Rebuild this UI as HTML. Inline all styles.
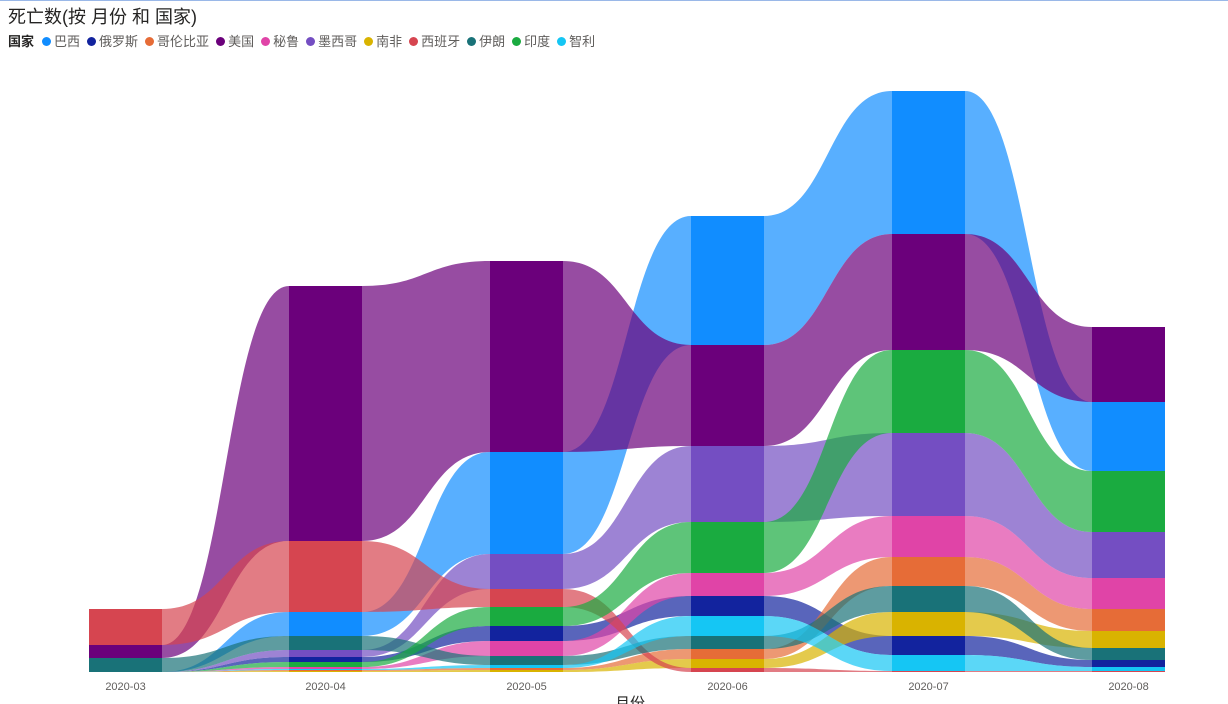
<!DOCTYPE html>
<html><head><meta charset="utf-8"><style>
body{margin:0;width:1228px;height:704px;overflow:hidden;background:#fff;font-family:"Liberation Sans","Noto Sans CJK SC",sans-serif;}
#top{position:absolute;left:0;top:0;width:1228px;height:1px;background:#9ab8e8}
#title{position:absolute;left:8px;top:3px;font-size:18px;color:#252423}
#legend{position:absolute;left:8px;top:31px;font-size:13px;color:#605e5c;white-space:nowrap}
#legend b{color:#252423;margin-right:8px}
#legend span{margin-right:7px}
#legend i{display:inline-block;width:9px;height:9px;border-radius:50%;margin-right:3px;vertical-align:0}
svg{position:absolute;left:0;top:0}
</style></head><body>
<div id="top"></div>
<div id="title">死亡数(按 月份 和 国家)</div>
<div id="legend"><b>国家</b></div>
<svg id="s" width="1228" height="704"></svg>
<script>
var C={巴西:"#118DFF",俄罗斯:"#12239E",哥伦比亚:"#E66C37",美国:"#6B007B",秘鲁:"#E044A7",墨西哥:"#744EC2",南非:"#D9B300",西班牙:"#D64550",伊朗:"#197278",印度:"#1AAB40",智利:"#15C6F4"};
var lg=document.getElementById('legend');
for(var k in C){lg.innerHTML+='<span><i style="background:'+C[k]+'"></i>'+k+'</span>';}
var X=[89,289,490,691,892,1092],W=73,B=672;
var cols=[
{伊朗:[658,672],美国:[645,658],西班牙:[609,645]},
{南非:[671,672],哥伦比亚:[670,671],智利:[669,670],秘鲁:[667,669],印度:[662,667],俄罗斯:[657,662],墨西哥:[650,657],伊朗:[636,650],巴西:[612,636],西班牙:[541,612],美国:[286,541]},
{南非:[670,672],哥伦比亚:[668,670],智利:[665,668],伊朗:[656,665],秘鲁:[641,656],俄罗斯:[626,641],印度:[607,626],西班牙:[589,607],墨西哥:[554,589],巴西:[452,554],美国:[261,452]},
{西班牙:[668,672],南非:[659,668],哥伦比亚:[649,659],伊朗:[636,649],智利:[616,636],俄罗斯:[596,616],秘鲁:[573,596],印度:[522,573],墨西哥:[446,522],美国:[345,446],巴西:[216,345]},
{西班牙:[671,672],智利:[655,671],俄罗斯:[636,655],南非:[612,636],伊朗:[586,612],哥伦比亚:[557,586],秘鲁:[516,557],墨西哥:[433,516],印度:[350,433],美国:[234,350],巴西:[91,234]},
{西班牙:[671,672],智利:[667,671],俄罗斯:[660,667],伊朗:[648,660],南非:[631,648],哥伦比亚:[609,631],秘鲁:[578,609],墨西哥:[532,578],印度:[471,532],巴西:[402,471],美国:[327,402]}];
var h='';
for(var i=0;i<5;i++){var a=cols[i],b=cols[i+1],x1=X[i]+W,x2=X[i+1],m=(x1+x2)/2;
for(var k in C){var p=a[k]||[B,B],q=b[k]||[B,B];if(p[0]==p[1]&&q[0]==q[1])continue;
h+='<path d="M'+x1+' '+p[0]+'C'+m+' '+p[0]+' '+m+' '+q[0]+' '+x2+' '+q[0]+'L'+x2+' '+q[1]+'C'+m+' '+q[1]+' '+m+' '+p[1]+' '+x1+' '+p[1]+'Z" fill="'+C[k]+'" fill-opacity="0.7"/>';}}
for(var i=0;i<6;i++){var a=cols[i];for(var k in a){h+='<rect x="'+X[i]+'" y="'+a[k][0]+'" width="'+W+'" height="'+(a[k][1]-a[k][0])+'" fill="'+C[k]+'"/>';}}
var L=['2020-03','2020-04','2020-05','2020-06','2020-07','2020-08'];
for(var i=0;i<6;i++)h+='<text x="'+(X[i]+W/2)+'" y="690" font-size="11" fill="#605e5c" text-anchor="middle" font-family="Liberation Sans">'+L[i]+'</text>';
h+='<text x="630" y="708" font-size="15" fill="#252423" text-anchor="middle" font-family="Liberation Sans,Noto Sans CJK SC,sans-serif">月份</text>';
document.getElementById('s').innerHTML=h;
</script>
</body></html>
